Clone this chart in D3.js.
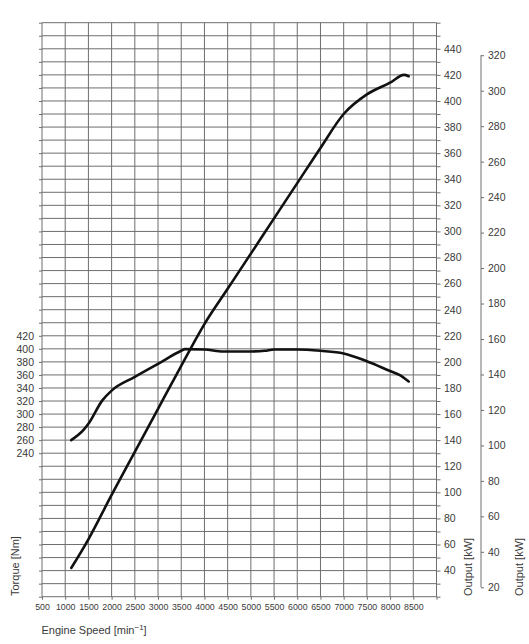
<!DOCTYPE html>
<html>
<head>
<meta charset="utf-8">
<script src="https://cdn.jsdelivr.net/npm/d3@7"></script>
<style>
  html, body { margin: 0; padding: 0; background: #fff; }
  svg { display: block; }
  text { font-family: "Liberation Sans", Arial, sans-serif; fill: #3a3a3a; }
</style>
</head>
<body>
<div id="chart"></div>
<script>
// curve data
const torqueRpm = [1130, 1400, 1500, 1800, 2000, 2500, 3000, 3500, 3580, 4000, 4400, 5000, 5300, 5500, 6000, 6500, 7000, 7500, 8000, 8200, 8400];
const torqueNm = [260, 276, 285, 321, 336, 357, 377, 397, 399.5, 399, 396, 396, 397, 399, 399, 397, 393, 381, 366, 360, 350];
const powerRpm = [1130, 1500, 2000, 2500, 3000, 3500, 4000, 4500, 5000, 5500, 6000, 6500, 7000, 7500, 8000, 8300, 8400];
const powerPS = [42, 64, 98, 131, 164, 197, 229, 256, 283, 310, 337, 364, 390, 405, 414, 420, 419];

// tick labels
const rpmLabels = [500, 1000, 1500, 2000, 2500, 3000, 3500, 4000, 4500, 5000, 5500, 6000, 6500, 7000, 7500, 8000, 8500];
const torqueLabels = [240, 260, 280, 300, 320, 340, 360, 380, 400, 420];
const psLabels = [40, 60, 80, 100, 120, 140, 160, 180, 200, 220, 240, 260, 280, 300, 320, 340, 360, 380, 400, 420, 440];
const kwLabels = [20, 40, 60, 80, 100, 120, 140, 160, 180, 200, 220, 240, 260, 280, 300, 320];

const WIDTH = 529, HEIGHT = 644;
const PLOT = { left: 42, right: 436.5, top: 22.7, bottom: 596.7 };
const PS_PER_KW = 1.35962;

const svg = d3.select("#chart").append("svg")
  .attr("width", WIDTH).attr("height", HEIGHT)
  .attr("viewBox", `0 0 ${WIDTH} ${HEIGHT}`);

const x = d3.scaleLinear().domain([500, 9000]).range([PLOT.left, PLOT.right]);
const yPS = d3.scaleLinear().domain([20, 460]).range([PLOT.bottom, PLOT.top]);
const yNm = d3.scaleLinear().domain([20, 900]).range([PLOT.bottom, PLOT.top]);
const yKW = d3.scaleLinear().domain([20 / PS_PER_KW, 460 / PS_PER_KW]).range([PLOT.bottom, PLOT.top]);

const gridColor = "#6e6e6e";

// grid
const grid = svg.append("g").attr("stroke", gridColor).attr("stroke-width", 1);
grid.selectAll("line.v")
  .data(d3.range(500, 9001, 500))
  .join("line")
  .attr("x1", d => x(d)).attr("x2", d => x(d))
  .attr("y1", PLOT.top).attr("y2", PLOT.bottom);
grid.selectAll("line.h")
  .data(d3.range(20, 461, 10))
  .join("line")
  .attr("y1", d => yPS(d)).attr("y2", d => yPS(d))
  .attr("x1", PLOT.left).attr("x2", PLOT.right);

function styleAxis(g, size) {
  g.select(".domain").remove();
  g.selectAll(".tick line").attr("stroke", gridColor);
  g.selectAll(".tick text")
    .attr("fill", "#3a3a3a")
    .style("font-family", '"Liberation Sans", Arial, sans-serif')
    .style("font-size", size);
}

// left torque axis
svg.append("g")
  .attr("transform", `translate(${PLOT.left},0)`)
  .call(d3.axisLeft(yNm).tickValues(d3.range(20, 901, 20)).tickSize(3).tickPadding(5)
    .tickFormat(d => torqueLabels.includes(d) ? d : ""))
  .call(g => styleAxis(g, "10.5px"));

// bottom rpm axis
svg.append("g")
  .attr("transform", `translate(0,${PLOT.bottom})`)
  .call(d3.axisBottom(x).tickValues(d3.range(500, 9001, 500)).tickSize(3).tickPadding(4)
    .tickFormat(d => rpmLabels.includes(d) ? d : ""))
  .call(g => styleAxis(g, "8.8px"));

// right output axis (PS scale)
svg.append("g")
  .attr("transform", `translate(${PLOT.right},0)`)
  .call(d3.axisRight(yPS).tickValues(d3.range(20, 461, 10)).tickSize(4).tickPadding(3.5)
    .tickFormat(d => psLabels.includes(d) ? d : ""))
  .call(g => styleAxis(g, "10.5px"));

// far right output axis (kW)
const kwX = 481;
const kwAxis = svg.append("g")
  .attr("transform", `translate(${kwX},0)`)
  .call(d3.axisRight(yKW).tickValues(kwLabels).tickSize(3).tickPadding(4))
  .call(g => styleAxis(g, "10.5px"));
kwAxis.append("line")
  .attr("stroke", gridColor)
  .attr("y1", yKW(d3.min(kwLabels))).attr("y2", yKW(d3.max(kwLabels)));

// curves
const torqueLine = d3.line()
  .x((d, i) => x(torqueRpm[i]))
  .y(d => yNm(d))
  .curve(d3.curveMonotoneX);
const powerLine = d3.line()
  .x((d, i) => x(powerRpm[i]))
  .y(d => yPS(d))
  .curve(d3.curveMonotoneX);

svg.append("g")
  .attr("fill", "none")
  .attr("stroke", "#111")
  .attr("stroke-width", 2.6)
  .attr("stroke-linecap", "round")
  .attr("stroke-linejoin", "round")
  .call(g => g.append("path").attr("d", torqueLine(torqueNm)))
  .call(g => g.append("path").attr("d", powerLine(powerPS)));

// axis titles
svg.append("text")
  .attr("transform", "translate(19,596) rotate(-90)")
  .style("font-size", "11px")
  .text("Torque [Nm]");
svg.append("text")
  .attr("transform", "translate(471.5,596) rotate(-90)")
  .style("font-size", "11px")
  .text("Output [kW]");
svg.append("text")
  .attr("transform", "translate(523,596) rotate(-90)")
  .style("font-size", "11px")
  .text("Output [kW]");

const xTitle = svg.append("text")
  .attr("x", 41.5).attr("y", 634)
  .style("font-size", "11px");
xTitle.append("tspan").text("Engine Speed [min");
xTitle.append("tspan").attr("dy", -4).style("font-size", "8px").text("\u22121");
xTitle.append("tspan").attr("dy", 4).text("]");
</script>
</body>
</html>
